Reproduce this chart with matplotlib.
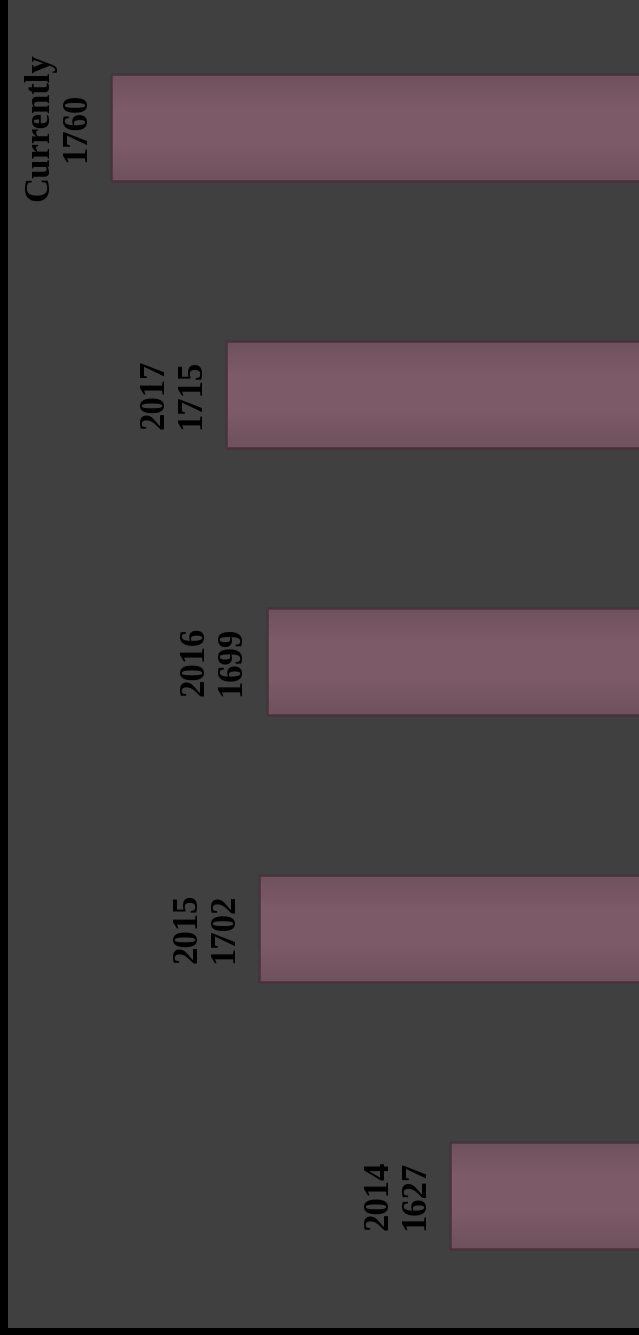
import matplotlib
matplotlib.use("Agg")
import matplotlib.pyplot as plt
import numpy as np
from matplotlib.colors import LinearSegmentedColormap

categories = ["Currently", "2017", "2016", "2015", "2014"]
values = [1760, 1715, 1699, 1702, 1627]

W, H, DPI = 639, 1335, 100
fig = plt.figure(figsize=(W / DPI, H / DPI), dpi=DPI, facecolor="#000000")
ax = fig.add_axes([8 / W, 7 / H, 1 - 8 / W, 1 - 7 / H])
ax.set_facecolor("#404040")

ypos = np.arange(len(categories))
bars = ax.barh(ypos, values, height=0.40, color="#7b5966",
               edgecolor="none", zorder=2)

# subtle vertical gradient inside each bar
grad = np.linspace(0, 1, 64).reshape(-1, 1)
cmap = LinearSegmentedColormap.from_list("g", ["#6f525d", "#7e5b68", "#7d5a67", "#6e525d"])
for b in bars:
    x0, y0 = b.get_x(), b.get_y()
    w, h = b.get_width(), b.get_height()
    im = ax.imshow(grad, cmap=cmap, aspect="auto",
                   extent=(x0, x0 + w, y0 + h, y0), zorder=2.5,
                   interpolation="bilinear")
    im.set_clip_path(b)

# bevelled outline on top
ax.barh(ypos, values, height=0.40, fill=False,
        edgecolor="#4a323c", linewidth=1.8, zorder=2.8)

for b, cat, v in zip(bars, categories, values):
    ax.annotate(f"{cat}\n{v}", xy=(v, b.get_y() + b.get_height() / 2),
                xytext=(-13, 0), textcoords="offset points",
                rotation=90, ha="right", va="center", multialignment="center",
                fontsize=25, fontweight="bold", family="Liberation Serif",
                color="#000000", linespacing=1.15, zorder=3)

ax.set_xlim(1800.5, 1553)
ax.set_ylim(4.496, -0.4775)
ax.set_xticks([])
ax.set_yticks([])
for s in ax.spines.values():
    s.set_visible(False)

fig.savefig("out.png", dpi=DPI, facecolor=fig.get_facecolor())
